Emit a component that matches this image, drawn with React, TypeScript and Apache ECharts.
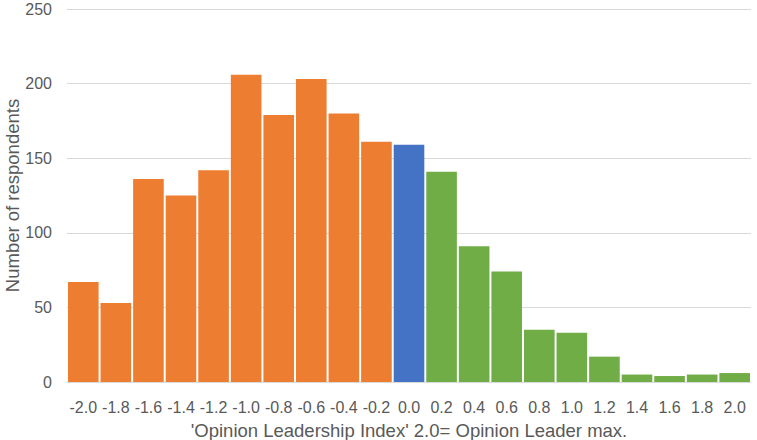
import React, { useEffect, useRef } from "react";
import * as echarts from "echarts";

const categories = ["-2.0","-1.8","-1.6","-1.4","-1.2","-1.0","-0.8","-0.6","-0.4","-0.2","0.0","0.2","0.4","0.6","0.8","1.0","1.2","1.4","1.6","1.8","2.0"];
const respondents = [67, 53, 136, 125, 142, 206, 179, 203, 180, 161, 159, 141, 91, 74, 35, 33, 17, 5, 4, 5, 6];
const yTicks = [0, 50, 100, 150, 200, 250];

const ORANGE = "#ED7D31";
const BLUE = "#4472C4";
const GREEN = "#70AD47";

export default function App() {
  const ref = useRef<HTMLDivElement>(null);
  useEffect(() => {
    if (!ref.current) return;
    const chart = echarts.init(ref.current, null, { renderer: "svg" });
    const font = "Liberation Sans, Arial, sans-serif";
    chart.setOption({
      animation: false,
      grid: { left: 67, right: 6, top: 9, bottom: 58, outerBoundsMode: "none", containLabel: false },
      xAxis: {
        type: "category",
        data: categories,
        name: "'Opinion Leadership Index' 2.0= Opinion Leader max.",
        nameLocation: "middle",
        nameGap: 39,
        nameMoveOverlap: false,
        nameTextStyle: { color: "#595959", fontSize: 18.5, fontFamily: font },
        axisLine: { show: true, lineStyle: { color: "#D9D9D9", width: 1 } },
        axisTick: { show: false },
        axisLabel: { color: "#595959", fontSize: 16, fontFamily: font, margin: 17, interval: 0 },
      },
      yAxis: {
        type: "value",
        min: yTicks[0],
        max: yTicks[yTicks.length - 1],
        interval: 50,
        name: "Number of respondents",
        nameLocation: "middle",
        nameGap: 46,
        nameMoveOverlap: false,
        nameTextStyle: { color: "#595959", fontSize: 18.5, fontFamily: font, lineHeight: 18 },
        axisLine: { show: false },
        axisTick: { show: false },
        axisLabel: { color: "#595959", fontSize: 16, fontFamily: font, margin: 15 },
        splitLine: { lineStyle: { color: "#D9D9D9", width: 1 } },
      },
      series: [
        {
          type: "bar",
          barCategoryGap: "6%",
          data: respondents.map((v, i) => {
            const c = parseFloat(categories[i]);
            return {
              value: v,
              itemStyle: { color: c < 0 ? ORANGE : c === 0 ? BLUE : GREEN },
            };
          }),
        },
      ],
    });
    return () => chart.dispose();
  }, []);
  return <div ref={ref} style={{ width: 757, height: 440, position: "absolute", left: 0, top: 0 }} />;
}
